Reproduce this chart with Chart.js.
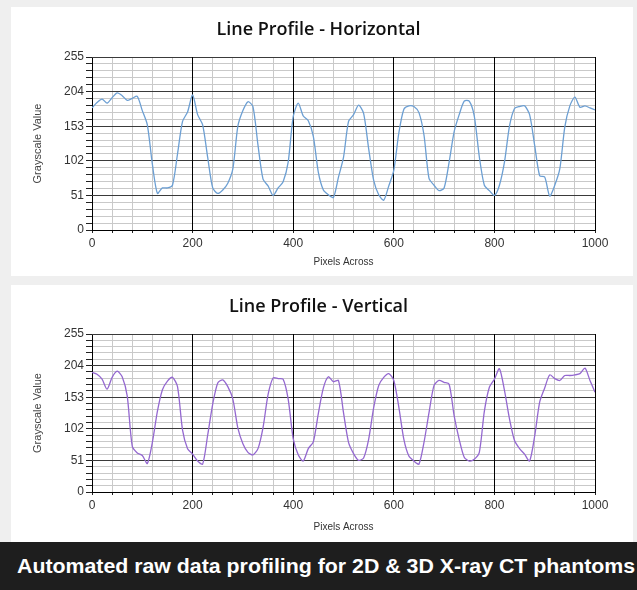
<!DOCTYPE html>
<html>
<head>
<meta charset="utf-8">
<script src="https://cdn.jsdelivr.net/npm/chart.js@4.4.0/dist/chart.umd.min.js"></script>
<style>
  html, body {
    margin: 0;
    padding: 0;
  }
  body {
    width: 637px;
    height: 590px;
    overflow: hidden;
    position: relative;
    background: #efefef;
    font-family: 'Liberation Sans', Arial, sans-serif;
  }
  .panel {
    position: absolute;
    left: 11px;
    width: 622px;
    background: #fff;
  }
  .panel canvas {
    display: block;
  }
  #panel-h { top: 7px; height: 269px; }
  #panel-v { top: 285px; height: 257px; }
  .chart-title {
    position: absolute;
    left: 0;
    width: 637px;
    text-align: center;
    font-family: 'Open Sans', sans-serif;
    font-weight: 600;
    font-size: 18px;
    line-height: 24px;
    color: #111;
  }
  #title-h { top: 16px; }
  #title-v { top: 293px; }
  #banner {
    position: absolute;
    left: 0;
    top: 542px;
    width: 637px;
    height: 48px;
    background: #1e1e1e;
  }
  #caption {
    position: absolute;
    left: 17px;
    top: 13px;
    color: #fff;
    font-weight: bold;
    font-size: 20px;
    white-space: nowrap;
    transform-origin: 0 50%;
  }
</style>
</head>
<body>
<div id="panel-h" class="panel"><canvas id="chart-h" width="622" height="269"></canvas></div>
<div id="panel-v" class="panel"><canvas id="chart-v" width="622" height="257"></canvas></div>
<div id="title-h" class="chart-title">Line Profile - Horizontal</div>
<div id="title-v" class="chart-title">Line Profile - Vertical</div>
<div id="banner"><span id="caption">Automated raw data profiling for 2D &amp; 3D X-ray CT phantoms</span></div>

<script>
// --- Profile data: grayscale sampled every 10 px along each line ---
const pixelPos = [
    0, 10, 20, 30, 40, 50, 60, 70, 80, 90,
    100, 110, 120, 130, 140, 150, 160, 170, 180, 190,
    200, 210, 220, 230, 240, 250, 260, 270, 280, 290,
    300, 310, 320, 330, 340, 350, 360, 370, 380, 390,
    400, 410, 420, 430, 440, 450, 460, 470, 480, 490,
    500, 510, 520, 530, 540, 550, 560, 570, 580, 590,
    600, 610, 620, 630, 640, 650, 660, 670, 680, 690,
    700, 710, 720, 730, 740, 750, 760, 770, 780, 790,
    800, 810, 820, 830, 840, 850, 860, 870, 880, 890,
    900, 910, 920, 930, 940, 950, 960, 970, 980, 990,
    1000
];

const horizontalGray = [
    180, 188, 193, 187, 195, 202, 198, 191, 194, 197,
    176, 155, 97, 54, 62, 62, 66, 112, 160, 174,
    199, 170, 155, 107, 62, 54, 59, 69, 90, 153,
    176, 189, 182, 125, 75, 65, 51, 62, 71, 100,
    167, 187, 168, 161, 138, 85, 59, 52, 48, 78,
    107, 160, 170, 184, 172, 120, 73, 52, 44, 65,
    88, 143, 178, 183, 182, 173, 140, 76, 66, 58,
    62, 100, 145, 170, 190, 190, 168, 108, 66, 58,
    51, 66, 100, 153, 179, 182, 183, 170, 125, 80,
    78, 50, 66, 90, 152, 183, 196, 181, 183, 180,
    177
];

const verticalGray = [
    193, 190, 182, 166, 185, 195, 186, 155, 74, 63,
    59, 46, 80, 130, 165, 179, 185, 170, 100, 70,
    61, 50, 45, 92, 142, 176, 181, 170, 150, 103,
    78, 64, 60, 70, 104, 157, 184, 183, 182, 150,
    86, 60, 50, 70, 81, 127, 168, 186, 178, 180,
    128, 80, 62, 51, 55, 85, 136, 172, 185, 191,
    180, 137, 85, 58, 50, 45, 80, 128, 172, 180,
    177, 174, 123, 85, 56, 50, 53, 64, 130, 169,
    182, 199, 164, 118, 83, 70, 61, 50, 90, 145,
    168, 189, 183, 180, 188, 188, 189, 191, 200, 180,
    161
];

// Axis ranges and steps (labels every 200 px / 51 gray levels)
const xRange = [0, 1000];
const xMinorStep = 40;
const xMajorStep = 200;
const yRange = [0, 255];
const yMinorStep = 10.2;
const yMajorStep = 51;

const MINOR_GRID = '#c9c9c9';
const MAJOR_X_GRID = '#000';
const MAJOR_Y_GRID = '#3a3a3a';

const isMultiple = (v, step) => Math.abs(v / step - Math.round(v / step)) < 1e-6;

// same snapping Chart.js uses for 1px lines
const alignPx = (p) => Math.round(p - 0.5) + 0.5;

/**
 * Strokes the major grid lines after the minor ones, so the light
 * lines never cut through them.
 */
const majorGridPlugin = {
    id: 'majorGrid',
    beforeDatasetsDraw(chart) {
        const { ctx, chartArea: area, scales: { x, y } } = chart;
        ctx.save();
        ctx.lineWidth = 1;

        ctx.strokeStyle = MAJOR_Y_GRID;
        y.ticks.forEach(t => {
            if (!isMultiple(t.value, yMajorStep) || t.value === yRange[0]) return;
            const py = alignPx(y.getPixelForValue(t.value));
            ctx.beginPath();
            ctx.moveTo(area.left, py);
            ctx.lineTo(area.right, py);
            ctx.stroke();
        });

        ctx.strokeStyle = MAJOR_X_GRID;
        x.ticks.forEach(t => {
            if (!isMultiple(t.value, xMajorStep) || t.value === xRange[0]) return;
            const px = alignPx(x.getPixelForValue(t.value));
            ctx.beginPath();
            ctx.moveTo(px, area.top);
            ctx.lineTo(px, area.bottom);
            ctx.stroke();
        });

        ctx.restore();
    }
};

/**
 * Builds a line-profile chart. `box` holds the pixel layout of the panel.
 */
const makeProfileChart = (canvasId, values, color, box) => {
    const points = pixelPos.map((x, i) => ({ x, y: values[i] }));

    return new Chart(document.getElementById(canvasId), {
        type: 'line',
        data: {
            datasets: [{
                data: points,
                borderColor: color,
                borderWidth: 1.3,
                pointRadius: 0,
                tension: 0.25,
                fill: false
            }]
        },
        plugins: [majorGridPlugin],
        options: {
            responsive: false,
            animation: false,
            events: [],
            layout: { padding: { left: 0, right: 38, top: box.top, bottom: 0 } },
            plugins: {
                legend: { display: false },
                tooltip: { enabled: false },
                title: { display: false }
            },
            scales: {
                x: {
                    type: 'linear',
                    min: xRange[0],
                    max: xRange[1],
                    afterFit: (scale) => { scale.height = box.xHeight; },
                    border: { color: '#000', width: 1 },
                    grid: {
                        // majors are left to the plugin
                        color: (c) => isMultiple(c.tick.value, xMajorStep) ? 'rgba(0,0,0,0)' : MINOR_GRID,
                        tickColor: '#222',
                        tickLength: 3
                    },
                    ticks: {
                        stepSize: xMinorStep,
                        autoSkip: false,
                        maxRotation: 0,
                        padding: 3,
                        color: '#333',
                        font: { family: "'Liberation Sans', Arial, sans-serif", size: 12 },
                        callback: (v) => isMultiple(v, xMajorStep) ? String(v) : ''
                    },
                    title: {
                        display: true,
                        text: 'Pixels Across',
                        color: '#333',
                        font: { family: "'Liberation Sans', Arial, sans-serif", size: 10 },
                        padding: { top: 0, bottom: box.xTitleBottom }
                    }
                },
                y: {
                    type: 'linear',
                    min: yRange[0],
                    max: yRange[1],
                    afterFit: (scale) => { scale.width = 81; },
                    border: { color: '#000', width: 1 },
                    grid: {
                        color: (c) => isMultiple(c.tick.value, yMajorStep) ? 'rgba(0,0,0,0)' : MINOR_GRID,
                        tickColor: '#222',
                        tickLength: 6
                    },
                    ticks: {
                        stepSize: yMinorStep,
                        autoSkip: false,
                        padding: 2,
                        color: '#333',
                        font: { family: "'Liberation Sans', Arial, sans-serif", size: 12 },
                        callback: (v) => isMultiple(v, yMajorStep) ? String(Math.round(v)) : ''
                    },
                    title: {
                        display: true,
                        text: 'Grayscale Value',
                        color: '#444',
                        font: { family: "'Liberation Sans', Arial, sans-serif", size: 11 },
                        padding: { top: 20, bottom: 0 }
                    }
                }
            }
        }
    });
};

makeProfileChart('chart-h', horizontalGray, '#6c9fd3', { top: 50, xHeight: 46, xTitleBottom: 8 });
makeProfileChart('chart-v', verticalGray, '#9468d0', { top: 49, xHeight: 50, xTitleBottom: 9 });

// Stretch the caption to span the banner
const caption = document.getElementById('caption');
const targetWidth = 618;
caption.style.transform = `scaleX(${targetWidth / caption.offsetWidth})`;
</script>
</body>
</html>
